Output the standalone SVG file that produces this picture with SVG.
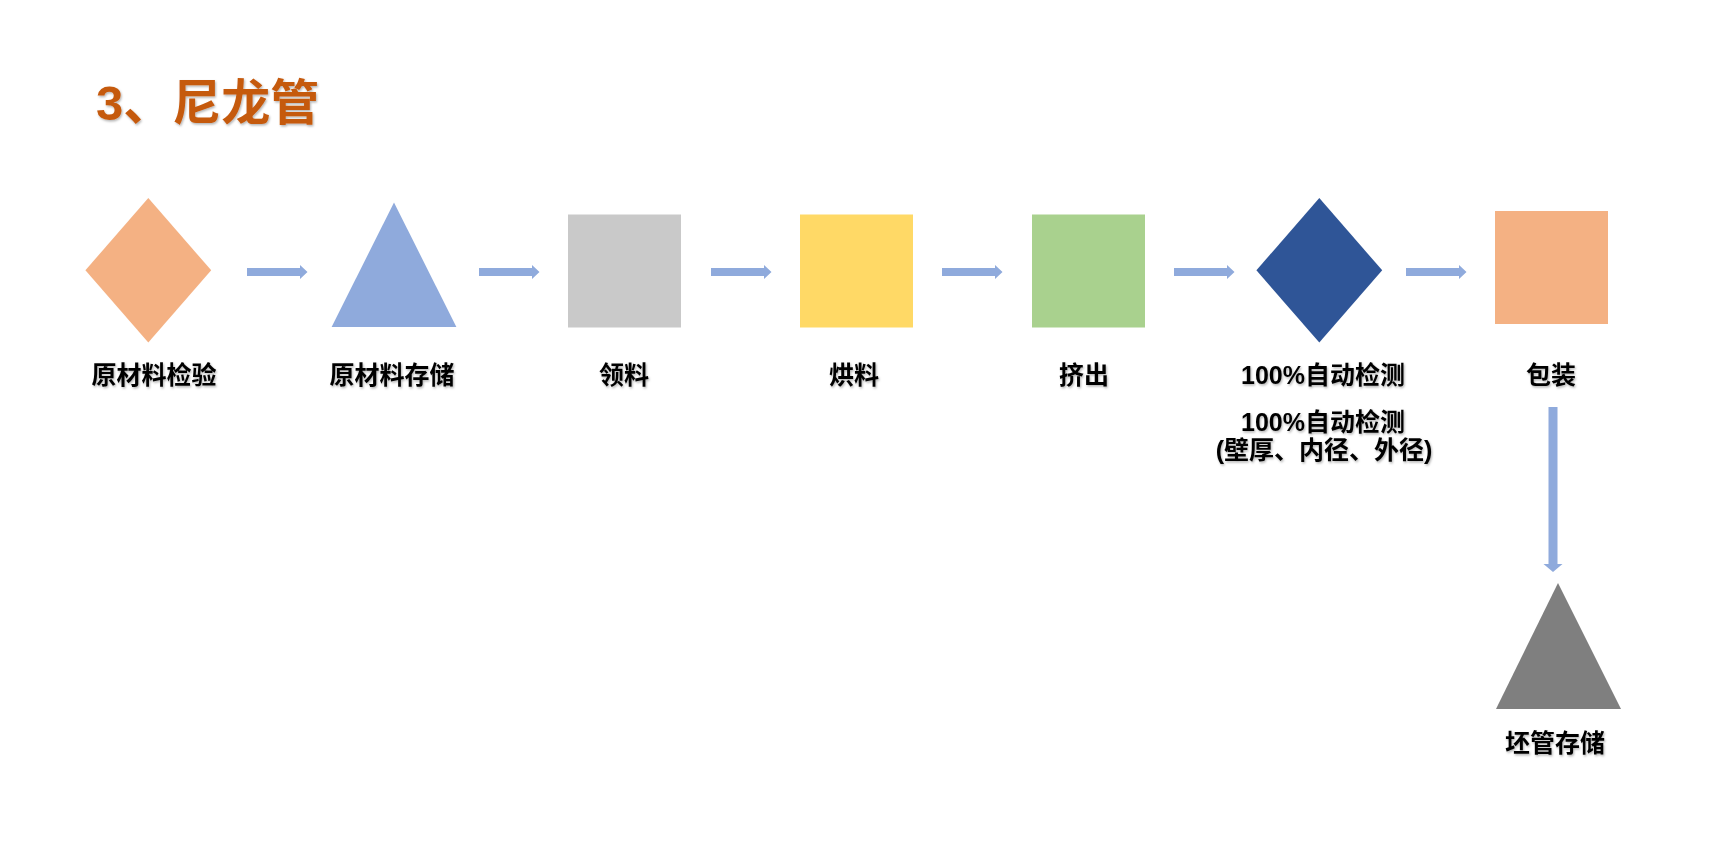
<svg xmlns="http://www.w3.org/2000/svg" width="1716" height="861" viewBox="0 0 1716 861">
<defs>
<filter id="sh" x="-10%" y="-20%" width="130%" height="160%">
<feDropShadow dx="1" dy="1.5" stdDeviation="0.8" flood-color="#000" flood-opacity="0.3"/>
</filter>
</defs>
<style>
.lbl{font-family:"Liberation Sans","Noto Sans CJK SC",sans-serif;font-weight:bold;font-size:25px;fill:#000;text-anchor:middle;filter:url(#sh)}
.title{font-family:"Liberation Sans","Noto Sans CJK SC",sans-serif;font-weight:bold;font-size:49px;fill:#C55A11;filter:url(#sh)}
.arr{fill:#8FAADC}
</style>
<rect width="1716" height="861" fill="#fff"/>
<text class="title" x="96" y="120">3、尼龙管</text>

<g id="n1"><polygon points="148.3,198 211.2,270.3 148.3,342.6 85.4,270.3" fill="#F4B183"/><text class="lbl" x="154" y="384">原材料检验</text></g>
<g id="n2"><polygon points="394,202.5 456.4,327 331.6,327" fill="#8FAADC"/><text class="lbl" x="392" y="384">原材料存储</text></g>
<g id="n3"><rect x="568" y="214.5" width="113" height="113" fill="#C9C9C9"/><text class="lbl" x="624" y="384">领料</text></g>
<g id="n4"><rect x="800" y="214.5" width="113" height="113" fill="#FFD966"/><text class="lbl" x="854" y="384">烘料</text></g>
<g id="n5"><rect x="1032" y="214.5" width="113" height="113" fill="#A9D18E"/><text class="lbl" x="1084" y="384">挤出</text></g>
<g id="n6"><polygon points="1319.3,198 1382.2,270.3 1319.3,342.6 1256.4,270.3" fill="#2F5597"/><text class="lbl" x="1323" y="384">100%自动检测</text></g>
<g id="n6note"><text class="lbl" x="1323" y="431">100%自动检测</text><text class="lbl" x="1324" y="459">(壁厚、内径、外径)</text></g>
<g id="n7"><rect x="1495" y="211" width="113" height="113" fill="#F4B183"/><text class="lbl" x="1551" y="384">包装</text></g>
<g id="n8"><polygon points="1558,583 1621,709 1496,709" fill="#7F7F7F"/><text class="lbl" x="1555" y="752">坯管存储</text></g>

<g id="connectors" class="arr">
<polygon points="247,268 300,268 300,265 307.5,272 300,279 300,276 247,276"/>
<polygon points="479,268 532,268 532,265 539.5,272 532,279 532,276 479,276"/>
<polygon points="711,268 764,268 764,265 771.5,272 764,279 764,276 711,276"/>
<polygon points="942,268 995,268 995,265 1002.5,272 995,279 995,276 942,276"/>
<polygon points="1174,268 1227,268 1227,265 1234.5,272 1227,279 1227,276 1174,276"/>
<polygon points="1406,268 1459,268 1459,265 1466.5,272 1459,279 1459,276 1406,276"/>
<polygon points="1548.5,407 1557.5,407 1557.5,564 1562.5,564 1553,572 1543.5,564 1548.5,564"/>
</g>
</svg>
